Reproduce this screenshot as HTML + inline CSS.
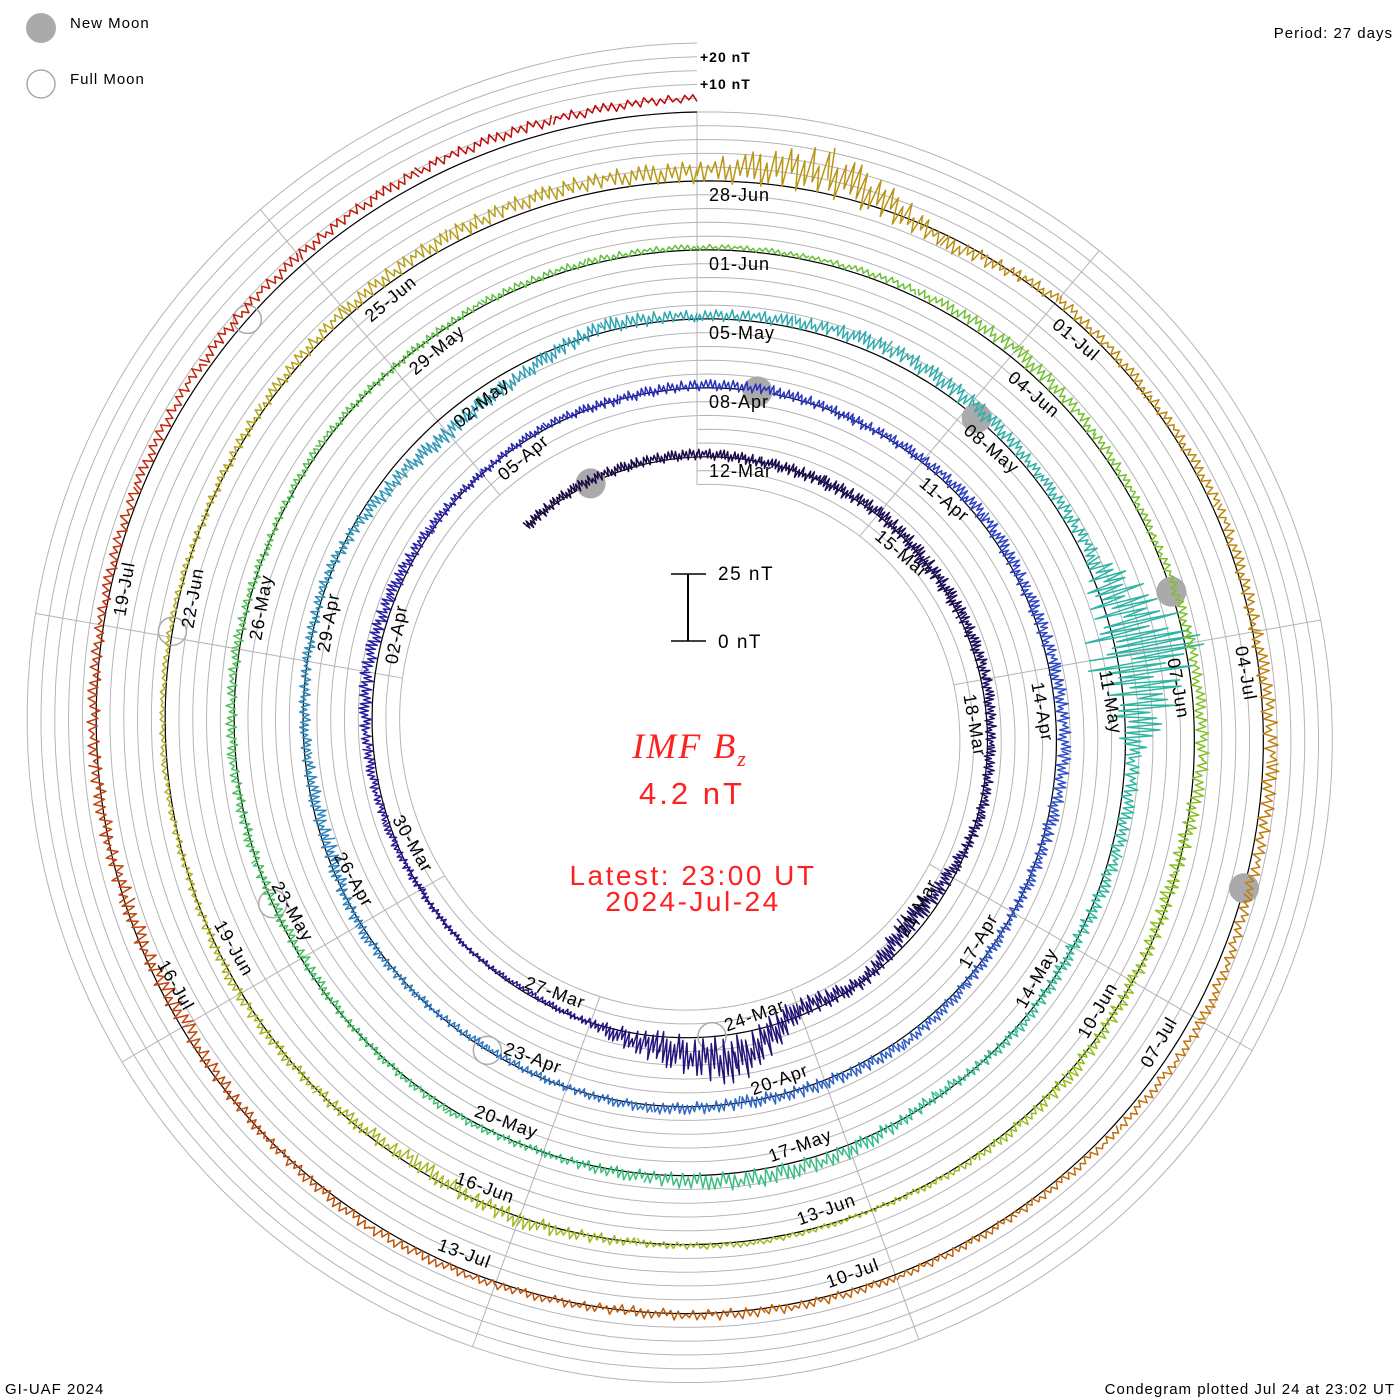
<!DOCTYPE html>
<html><head><meta charset="utf-8"><title>IMF Bz condegram</title>
<style>
html,body{margin:0;padding:0;background:#fff;}
svg{display:block;font-family:"Liberation Sans",sans-serif;}
</style></head>
<body>
<svg id="chart" width="1400" height="1400" viewBox="0 0 1400 1400" xmlns="http://www.w3.org/2000/svg">
  <rect width="1400" height="1400" fill="#fff"/>
  <g id="grid"></g>
  <g id="spokes"></g>
  <g id="baselines"></g>
  <g id="moons"></g>
  <g id="series"></g>
  <g id="dates"></g>

  <g>
    <circle cx="41" cy="28" r="15" fill="#aaaaaa"/>
    <text x="70" y="28" font-size="15" letter-spacing="1">New Moon</text>
    <circle cx="41" cy="84" r="14" fill="none" stroke="#aaaaaa" stroke-width="1.5"/>
    <text x="70" y="84" font-size="15" letter-spacing="1">Full Moon</text>
  </g>
  <text x="1393" y="38" font-size="15" letter-spacing="1" text-anchor="end">Period: 27 days</text>
  <text x="700" y="62" font-size="14" font-weight="bold" letter-spacing="1">+20 nT</text>
  <text x="700" y="89" font-size="14" font-weight="bold" letter-spacing="1">+10 nT</text>
  <text x="5" y="1394" font-size="15" letter-spacing="1">GI-UAF 2024</text>
  <text x="1395" y="1394" font-size="15" letter-spacing="1" text-anchor="end">Condegram plotted Jul 24 at 23:02 UT</text>

  <g>
    <line x1="688" y1="574" x2="688" y2="641" stroke="#000" stroke-width="2"/>
    <line x1="671" y1="574" x2="706" y2="574" stroke="#000" stroke-width="1.5"/>
    <line x1="671" y1="641" x2="706" y2="641" stroke="#000" stroke-width="1.5"/>
    <text x="718" y="580" font-size="19" letter-spacing="1.5">25 nT</text>
    <text x="718" y="648" font-size="19" letter-spacing="1.5">0 nT</text>
  </g>
  <text x="690" y="758" font-size="36" font-style="italic" fill="#ff2020" text-anchor="middle" letter-spacing="2" font-family="Liberation Serif, serif">IMF B<tspan font-size="22" dy="8">z</tspan></text>
  <text x="692" y="804" font-size="31" fill="#ff2020" text-anchor="middle" letter-spacing="3">4.2 nT</text>
  <text x="693" y="885" font-size="28" fill="#ff2020" text-anchor="middle" letter-spacing="2.5">Latest: 23:00 UT</text>
  <text x="693" y="911" font-size="28" fill="#ff2020" text-anchor="middle" letter-spacing="2.5">2024-Jul-24</text>
</svg>
<script>
// ---- data (daily, t = days since 2024-03-12 00:00 UT, first index t=-3, last t=135) ----
const T0 = -3;
const bzValues = [0,1,1,
 1,0,0,1,0,1,2,1,1,
 -2,-5,0,-3,10,4,
 0,-1,0,0,1,2,3,2,1,0,1,0,
 1,1,0,1,2,1,2,3,1,0,1,2,1,0,1,0,-1,0,1,-2,-1,0,1,-3,-6,-4,2,
 1,2,4,3,2,3,10,3,2,0,1,-1,2,3,1,0,1,0,-1,0,1,1,0,1,0,1,1,
 1,1,2,3,2,1,2,3,-1,0,1,1,0,1,0,1,-2,0,1,0,1,1,0,1,2,3,4,
 3,8,-3,2,1,2,1,3,2,4,2,1,1,1,0,1,2,0,-2,-1,1,1,2,3,3,4,4,5];
const bzSpread = [4,4,4,
 4,4,5,5,6,5,4,4,4,
 5,8,5,8,18,12,
 3,2,2,3,3,4,5,5,4,3,3,4,
 4,4,4,4,5,5,5,5,5,4,4,4,5,5,4,3,3,3,4,6,4,4,4,5,6,5,6,
 4,5,6,6,4,6,45,6,5,5,4,4,6,7,5,3,3,3,4,4,4,4,3,3,3,3,3,
 2,2,3,6,4,3,4,5,6,5,5,3,2,2,3,6,6,4,4,3,2,2,3,4,5,6,6,
 8,18,6,4,4,4,5,6,4,4,3,3,3,4,4,3,4,4,6,6,5,4,4,4,4,4,4,3];
const newMoonT = [-1.75, 27.76, 57.14, 86.53, 115.96];
const fullMoonT = [13.29, 42.99, 72.58, 102.05, 131.43];
const labelDays = []; for (let d = 0; d <= 129; d += 3) labelDays.push(d);
const colorStops = [[-3,'#1a0a40'],[10,'#20106a'],[20,'#281a9a'],[27,'#2a30c0'],[35,'#3050c8'],[45,'#3080c0'],[54,'#30a8b0'],[62,'#30b8a0'],[70,'#40c070'],[80,'#60c040'],[90,'#90c020'],[100,'#b0b020'],[108,'#b89818'],[115,'#c08010'],[122,'#c05808'],[128,'#c04010'],[135,'#c00008']];

// ---- geometry ----
const NS = 'http://www.w3.org/2000/svg';
const CX = 697, CY = 730, R0 = 273, TURN = 69, PERIOD = 27, PXNT = 2.75;
function baseR(t){ return R0 + TURN * t / PERIOD; }
function pos(t, off){
  const a = t * 2 * Math.PI / PERIOD, r = baseR(t) + off;
  return [CX + r * Math.sin(a), CY - r * Math.cos(a)];
}
function hex(c){ return [parseInt(c.substr(1,2),16),parseInt(c.substr(3,2),16),parseInt(c.substr(5,2),16)]; }
function colorAt(t){
  for (let i = 0; i < colorStops.length - 1; i++){
    const [t1,c1] = colorStops[i], [t2,c2] = colorStops[i+1];
    if (t <= t2){
      const f = Math.max(0, Math.min(1, (t - t1) / (t2 - t1)));
      const a = hex(c1), b = hex(c2);
      return 'rgb(' + a.map((v,k)=>Math.round(v + (b[k]-v)*f)).join(',') + ')';
    }
  }
  return colorStops[colorStops.length-1][1];
}
function el(tag, attrs, parent){
  const e = document.createElementNS(NS, tag);
  for (const k in attrs) e.setAttribute(k, attrs[k]);
  parent.appendChild(e); return e;
}

// grid spirals
const grid = document.getElementById('grid');
for (let m = -2; m <= 25; m++){
  let d = '';
  for (let th = 0; th <= 360; th += 2){
    const r = R0 + 13.8 * m + TURN * th / 360, a = th * Math.PI / 180;
    d += (th ? 'L' : 'M') + (CX + r*Math.sin(a)).toFixed(1) + ',' + (CY - r*Math.cos(a)).toFixed(1);
  }
  const p = el('path', {d:d, fill:'none', stroke:'#b4b4b4', 'stroke-width':1}, grid);
  
  
}
// spokes
const spokes = document.getElementById('spokes');
for (let th = 0; th < 360; th += 40){
  const a = th * Math.PI / 180;
  const ri = R0 - 27.6 + TURN * th / 360, ro = R0 + 345 + TURN * th / 360;
  const l = el('line', {x1:CX+ri*Math.sin(a), y1:CY-ri*Math.cos(a), x2:CX+ro*Math.sin(a), y2:CY-ro*Math.cos(a), stroke:'#b4b4b4','stroke-width':1}, spokes);
  
  
}
// baseline
const bl = document.getElementById('baselines');
let bd = '';
for (let t = T0; t <= 135.001; t += 0.1){ const [x,y] = pos(t,0); bd += (t===T0?'M':'L') + x.toFixed(1) + ',' + y.toFixed(1); }
const bp = el('path', {d:bd, fill:'none', stroke:'#000', 'stroke-width':1.2}, bl);



// moons
const moons = document.getElementById('moons');
newMoonT.forEach(t => { const [x,y] = pos(t,0);
  const c = el('circle', {cx:x, cy:y, r:15, fill:'#aaaaaa'}, moons);
  
   });
fullMoonT.forEach(t => { const [x,y] = pos(t,0);
  const c = el('circle', {cx:x, cy:y, r:14, fill:'none', stroke:'#aaaaaa','stroke-width':1.5}, moons);
  
   });

// series
const series = document.getElementById('series');
const NOISE = [1,-0.6,0.8,-1,0.3,-0.8,0.9,-0.4,0.6,-0.9,1,-0.2,0.7,-1,0.4,-0.7,1,-0.5,0.2,-0.9,0.8,-0.3,0.9,-0.8,0.5,-0.1,0.7,-0.6,1,-0.7,0.3,-1,0.6,-0.4,0.9,-0.5];
const SUB = NOISE.length;
for (let i = 0; i < bzValues.length - 1; i++){
  const v0 = bzValues[i], v1 = bzValues[i+1];
  const s0 = bzSpread[i], s1 = bzSpread[i+1];
  let d = '';
  for (let k = 0; k <= SUB; k++){
    const f = k / SUB, t = T0 + i + f;
    const v = v0 + (v1 - v0) * f, s = s0 + (s1 - s0) * f;
    const val = v + NOISE[(k + i * 7) % SUB] * s * 0.5;
    const [x,y] = pos(t, val * PXNT);
    d += (k ? 'L' : 'M') + x.toFixed(1) + ',' + y.toFixed(1);
  }
  const p = el('path', {d:d, fill:'none', stroke:colorAt(T0 + i + 0.5), 'stroke-width':1.5, 'stroke-linejoin':'round'}, series);
  
  
}

// date labels
const dates = document.getElementById('dates');
const MON = ['Jan','Feb','Mar','Apr','May','Jun','Jul','Aug','Sep','Oct','Nov','Dec'];
labelDays.forEach(t => {
  const dt = new Date(Date.UTC(2024, 2, 12 + t));
  const txt = String(dt.getUTCDate()).padStart(2,'0') + '-' + MON[dt.getUTCMonth()];
  const th = (t * 360 / PERIOD) % 360, r = baseR(t);
  let e;
  if (th > 90 && th < 270){
    e = el('text', {x:CX - 12, y:CY + r - 10, 'font-size':18, 'letter-spacing':1, 'text-anchor':'end',
      transform:'rotate(' + (th - 180) + ' ' + CX + ' ' + CY + ')'}, dates);
  } else {
    e = el('text', {x:CX + 12, y:CY - r + 20, 'font-size':18, 'letter-spacing':1,
      transform:'rotate(' + th + ' ' + CX + ' ' + CY + ')'}, dates);
  }
  e.textContent = txt;
  
  
});
</script>
</body></html>
